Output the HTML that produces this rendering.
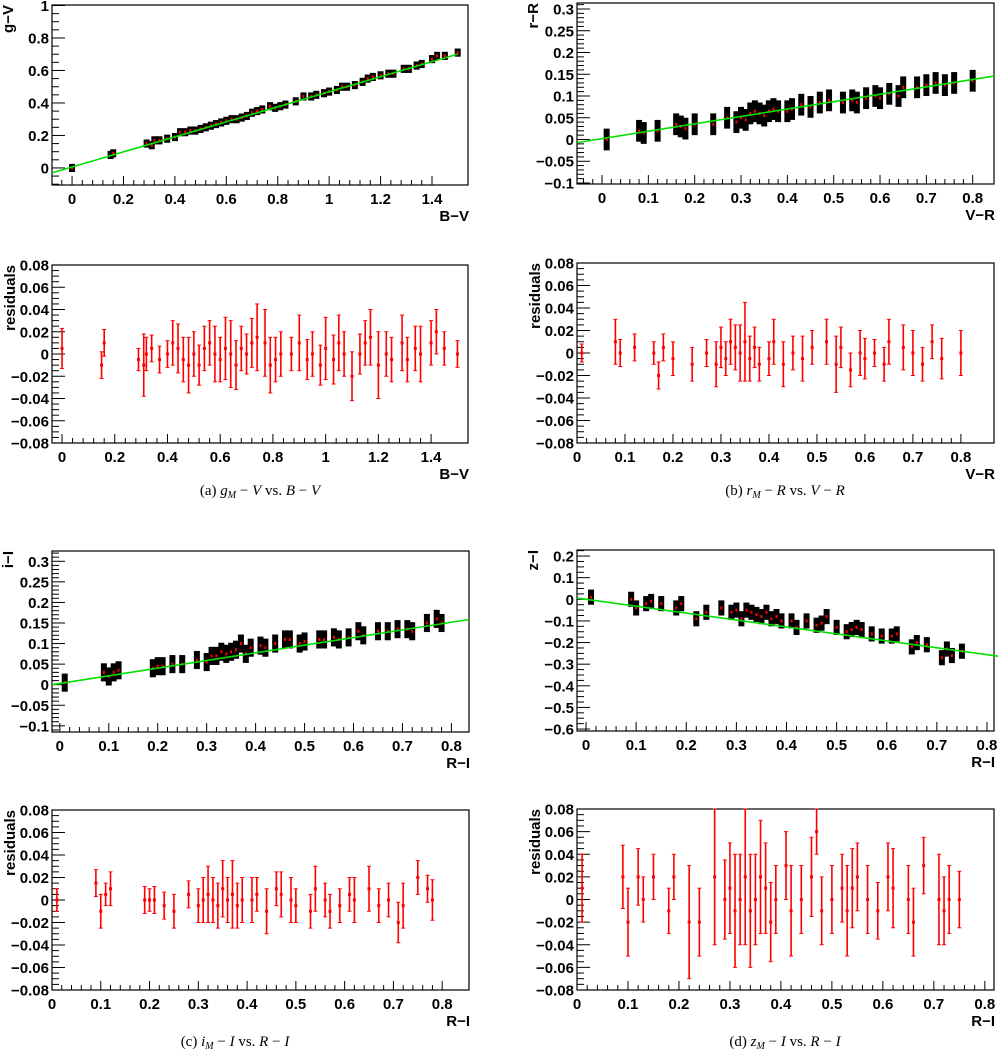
<!DOCTYPE html>
<html><head><meta charset="utf-8">
<style>
html,body{margin:0;padding:0;background:#fff;}
svg{display:block;}
.tl{font-family:"Liberation Sans",sans-serif;font-weight:bold;font-size:15px;fill:#000;}
.cap{font-family:"Liberation Serif",serif;font-size:15px;fill:#000;}
</style></head>
<body>
<svg id="fig" width="998" height="1049" viewBox="0 0 998 1049" xmlns="http://www.w3.org/2000/svg"></svg>
<script>
// ---- data ----
const aX=[0,0.15,0.16,0.29,0.31,0.32,0.34,0.37,0.40,0.42,0.44,0.46,0.48,0.50,0.52,0.54,0.56,0.58,0.60,0.62,0.64,0.66,0.68,0.70,0.72,0.74,0.77,0.79,0.81,0.83,0.87,0.90,0.93,0.95,0.98,1.0,1.03,1.05,1.07,1.10,1.13,1.15,1.17,1.20,1.23,1.25,1.29,1.31,1.34,1.36,1.40,1.42,1.45,1.50];
const aY=[0.0,0.08,0.09,0.15,0.14,0.17,0.17,0.18,0.19,0.22,0.22,0.23,0.23,0.24,0.25,0.26,0.27,0.28,0.29,0.30,0.30,0.31,0.32,0.34,0.35,0.36,0.38,0.37,0.38,0.39,0.41,0.44,0.44,0.45,0.46,0.47,0.48,0.50,0.50,0.51,0.53,0.55,0.56,0.57,0.58,0.58,0.61,0.61,0.63,0.64,0.67,0.69,0.69,0.71];
const aR=[0.005,-0.01,0.01,-0.005,-0.01,0.0,0.005,-0.005,0.0,0.01,0.005,-0.005,-0.01,0.0,-0.01,0.005,0.01,0.0,-0.005,0.005,0.0,-0.01,0.005,0.0,0.01,0.015,0.01,-0.01,-0.005,0.0,0.0,0.01,-0.005,0.0,-0.01,0.005,-0.005,0.01,0.0,-0.02,0.0,0.01,0.015,-0.01,0.0,-0.005,0.01,-0.005,0.005,0.0,0.01,0.02,0.005,0.0];
const aE=[0.018,0.012,0.012,0.01,0.028,0.015,0.012,0.012,0.012,0.02,0.022,0.02,0.025,0.02,0.018,0.02,0.02,0.025,0.02,0.028,0.03,0.022,0.02,0.018,0.022,0.03,0.03,0.025,0.02,0.02,0.015,0.025,0.018,0.02,0.018,0.028,0.022,0.025,0.02,0.022,0.018,0.02,0.025,0.03,0.02,0.02,0.025,0.02,0.02,0.025,0.02,0.02,0.015,0.012];
const bX=[0.01,0.08,0.09,0.12,0.16,0.17,0.18,0.20,0.24,0.27,0.29,0.30,0.31,0.32,0.33,0.34,0.35,0.36,0.37,0.38,0.40,0.41,0.43,0.45,0.47,0.49,0.52,0.54,0.55,0.57,0.59,0.60,0.62,0.64,0.65,0.68,0.70,0.72,0.74,0.76,0.80];
const bY=[0.0,0.02,0.015,0.02,0.035,0.03,0.025,0.035,0.035,0.05,0.04,0.05,0.045,0.06,0.065,0.06,0.055,0.065,0.07,0.065,0.065,0.07,0.08,0.075,0.085,0.09,0.085,0.09,0.085,0.095,0.10,0.095,0.105,0.10,0.12,0.12,0.125,0.13,0.125,0.13,0.135];
const bR=[0.0,0.01,0.0,0.005,0.0,-0.02,0.005,-0.005,-0.01,0.0,-0.01,0.005,-0.005,0.01,0.005,0.0,0.01,-0.005,0.005,-0.01,-0.005,0.01,-0.01,0.0,-0.005,0.005,0.01,-0.01,0.005,-0.015,0.0,-0.005,0.0,-0.01,0.01,0.005,0.0,-0.01,0.01,-0.005,0.0];
const bE=[0.008,0.02,0.012,0.012,0.01,0.012,0.012,0.015,0.015,0.012,0.02,0.018,0.015,0.02,0.02,0.025,0.035,0.02,0.018,0.015,0.015,0.02,0.02,0.015,0.02,0.015,0.02,0.025,0.018,0.015,0.02,0.018,0.012,0.015,0.02,0.02,0.02,0.015,0.015,0.018,0.02];
const cX=[0.01,0.09,0.1,0.11,0.12,0.19,0.2,0.21,0.23,0.25,0.28,0.3,0.31,0.32,0.33,0.34,0.35,0.36,0.37,0.38,0.39,0.41,0.42,0.44,0.46,0.47,0.49,0.5,0.53,0.54,0.56,0.57,0.59,0.61,0.62,0.65,0.67,0.69,0.71,0.72,0.75,0.77,0.78];
const cY=[0.005,0.03,0.02,0.03,0.035,0.04,0.045,0.045,0.05,0.05,0.06,0.055,0.07,0.07,0.08,0.075,0.08,0.085,0.1,0.075,0.09,0.095,0.09,0.1,0.11,0.11,0.1,0.105,0.11,0.11,0.115,0.11,0.115,0.13,0.12,0.13,0.13,0.135,0.135,0.13,0.15,0.16,0.15];
const cR=[0.0,0.015,-0.01,0.005,0.01,0.0,0.0,0.0,-0.005,-0.01,0.005,-0.005,0.0,0.005,0.0,-0.005,0.01,0.0,0.005,-0.005,0.0,0.0,0.005,-0.01,0.01,0.005,0.0,-0.005,-0.01,0.01,0.0,-0.01,-0.005,0.005,0.0,0.01,-0.005,0.0,-0.02,-0.005,0.02,0.01,0.0];
const cE=[0.01,0.012,0.015,0.01,0.015,0.012,0.01,0.012,0.012,0.015,0.012,0.015,0.02,0.025,0.02,0.02,0.025,0.02,0.03,0.02,0.02,0.02,0.015,0.02,0.015,0.02,0.02,0.015,0.015,0.02,0.015,0.015,0.015,0.015,0.02,0.02,0.015,0.015,0.018,0.02,0.015,0.012,0.018];
const dX=[0.01,0.09,0.1,0.12,0.13,0.15,0.18,0.19,0.22,0.24,0.27,0.29,0.3,0.31,0.32,0.33,0.34,0.35,0.36,0.37,0.38,0.39,0.41,0.42,0.44,0.46,0.47,0.48,0.5,0.52,0.53,0.54,0.55,0.57,0.59,0.61,0.62,0.65,0.66,0.68,0.71,0.72,0.73,0.75];
const dY=[0.01,0.0,-0.04,-0.02,-0.01,-0.02,-0.04,-0.02,-0.09,-0.06,-0.04,-0.06,-0.05,-0.09,-0.05,-0.06,-0.07,-0.08,-0.06,-0.09,-0.08,-0.1,-0.1,-0.13,-0.1,-0.12,-0.11,-0.08,-0.13,-0.15,-0.14,-0.13,-0.14,-0.16,-0.17,-0.17,-0.16,-0.22,-0.2,-0.21,-0.27,-0.23,-0.26,-0.24];
const dR=[0.01,0.02,-0.02,0.02,0.0,0.02,-0.01,0.02,-0.02,-0.02,0.02,0.0,0.01,-0.01,0.0,0.02,-0.01,0.0,0.02,0.01,-0.02,0.0,0.03,-0.01,0.0,0.02,0.06,-0.01,0.0,0.01,-0.01,0.01,0.02,0.0,-0.01,0.02,0.01,0.0,-0.02,0.03,0.0,-0.01,0.0,0.0];
const dE=[0.03,0.028,0.03,0.025,0.02,0.02,0.02,0.02,0.05,0.03,0.06,0.035,0.04,0.05,0.04,0.06,0.05,0.04,0.05,0.04,0.035,0.03,0.03,0.04,0.03,0.035,0.02,0.03,0.03,0.03,0.04,0.035,0.03,0.03,0.025,0.03,0.035,0.03,0.03,0.025,0.04,0.03,0.03,0.025];
const fitSlope=[0.463,0.17,0.186,-0.32];
const fitIntercept=[0.006,0.002,0.003,0.0];
const captions=["(a) ","(b) ","(c) ","(d) "];

// ---- drawing ----
const NS="http://www.w3.org/2000/svg";
const svg=document.getElementById('fig');
function mk(tag,attrs,parent){const e=document.createElementNS(NS,tag);for(const k in attrs)e.setAttribute(k,attrs[k]);(parent||svg).appendChild(e);return e;}
function fmt(v){let s=(Math.round(v*1000)/1000).toString();if(s.startsWith('-'))s='\u2212'+s.slice(1);return s;}

function panel(name,f,xd,yd,xt,yt,xTitle,yTitle){
  const g=mk('g',{});
  
  
  const [L,T,R,B]=f;
  const sx=v=>L+(v-xd[0])/(xd[1]-xd[0])*(R-L);
  const sy=v=>B-(v-yd[0])/(yd[1]-yd[0])*(B-T);
  const fr=mk('rect',{x:L,y:T,width:R-L,height:B-T,fill:'none',stroke:'#000','stroke-width':1.2},g);
  
  
  const xa=mk('g',{},g);
  
  
  for(let v=xt[0];v<=xt[1]+1e-9;v+=xt[2]/5){
    const vv=Math.round(v*1e6)/1e6; if(vv<xd[0]||vv>xd[1])continue;
    const major=Math.abs(Math.round(vv/xt[2])*xt[2]-vv)<1e-6;
    mk('line',{x1:sx(vv),x2:sx(vv),y1:B,y2:B-(major?9:5),stroke:'#000','stroke-width':1},xa);
  }
  for(let v=xt[0]-xt[2]/5;v>=xd[0];v-=xt[2]/5) mk('line',{x1:sx(v),x2:sx(v),y1:B,y2:B-5,stroke:'#000'},xa);
  for(let v=xt[0];v<=xt[1]+1e-9;v+=xt[2]){
    const vv=Math.round(v*1e6)/1e6;
    const t=mk('text',{x:sx(vv),y:B+19,'text-anchor':'middle',class:'tl'},xa);t.textContent=fmt(vv);
  }
  const xtl=mk('text',{x:R+1,y:B+36,'text-anchor':'end',class:'tl'},g);xtl.textContent=xTitle;
  
  
  const ya=mk('g',{},g);
  
  
  const ym=yt[2]/(yt[3]||5);
  for(let v=yt[0]-ym*10;v<=yd[1]+1e-9;v+=ym){
    const vv=Math.round(v*1e6)/1e6; if(vv<yd[0]-1e-9)continue;
    const major=Math.abs(Math.round(vv/yt[2])*yt[2]-vv)<1e-6;
    mk('line',{x1:L,x2:L+(major?13:7),y1:sy(vv),y2:sy(vv),stroke:'#000','stroke-width':1},ya);
  }
  for(let v=yt[0];v<=yt[1]+1e-9;v+=yt[2]){
    const vv=Math.round(v*1e6)/1e6;
    const t=mk('text',{x:L-3,y:sy(vv)+5.5,'text-anchor':'end',class:'tl'},ya);t.textContent=fmt(vv);
  }
  const bx=L-(yTitle==='residuals'?37:39);
  const ytl=mk('text',{x:0,y:0,'text-anchor':'end',class:'tl',transform:`translate(${bx},${T}) rotate(-90)`},g);ytl.textContent=yTitle;
  
  
  return {g,sx,sy,f};
}

function topPanel(idx,f,xd,yd,xt,yt,xT,yT,X,Y,err,fitx){
  const p=panel('fit-panel-'+'abcd'[idx],f,xd,yd,xt,yt,xT,yT);
  const pts=mk('g',{},p.g);
  
  
  for(let i=0;i<X.length;i++){
    const x=p.sx(X[i]);
    const b=mk('rect',{x:x-3,y:p.sy(Y[i]+err),width:6,height:p.sy(Y[i]-err)-p.sy(Y[i]+err),fill:'#000'},pts);
    
    
    const d=mk('rect',{x:x-1,y:p.sy(Y[i])-1.5,width:2,height:3,fill:'#f00'},pts);
    
    
  }
  const x0=fitx[0],x1=fitx[1];
  const ln=mk('line',{x1:p.sx(x0),y1:p.sy(fitSlope[idx]*x0+fitIntercept[idx]),x2:p.sx(x1),y2:p.sy(fitSlope[idx]*x1+fitIntercept[idx]),stroke:'#00e000','stroke-width':1.6},p.g);
  
  
}
function resPanel(idx,f,xd,xt,X,Rr,E){
  const p=panel('residual-panel-'+'abcd'[idx],f,xd,[-0.08,0.08],xt,[-0.08,0.08,0.02,4],xt[3],'residuals');
  const pts=mk('g',{},p.g);
  
  
  const [L,T,R,B]=f;
  for(let i=0;i<X.length;i++){
    const x=p.sx(X[i]);
    const y1=Math.max(T,p.sy(Rr[i]+E[i])),y2=Math.min(B,p.sy(Rr[i]-E[i]));
    const l=mk('line',{x1:x,x2:x,y1:y1,y2:y2,stroke:'#f00','stroke-width':1.6},pts);
    
    
    mk('line',{x1:x-2,x2:x+2,y1:y1,y2:y1,stroke:'#f00'},pts);
    mk('line',{x1:x-2,x2:x+2,y1:y2,y2:y2,stroke:'#f00'},pts);
    const d=mk('rect',{x:x-1.5,y:p.sy(Rr[i])-1.5,width:3,height:3,fill:'#f00'},pts);
    
    
  }
}

topPanel(0,[52,5,468,185],[-0.078,1.54],[-0.105,1.003],[0,1.4,0.2],[0,1,0.2,4],'B\u2212V','g\u2212V',aX,aY,0.025,[-0.078,1.5]);
resPanel(0,[52,265,468,443],[-0.038,1.54],[0,1.4,0.2,'B\u2212V'],aX,aR,aE);
topPanel(1,[577,3,994,184],[-0.054,0.846],[-0.1023,0.3138],[0,0.8,0.1],[-0.1,0.3,0.05,5],'V\u2212R','r\u2212R',bX,bY,0.025,[-0.054,0.846]);
resPanel(1,[577,263,994,443],[0,0.869],[0,0.8,0.1,'V\u2212R'],bX,bR,bE);
topPanel(2,[52,551,469,732],[-0.016,0.836],[-0.115,0.325],[0,0.8,0.1],[-0.1,0.3,0.05,5],'R\u2212I','i\u2212I',cX,cY,0.022,[-0.016,0.836]);
resPanel(2,[52,810,469,990],[0,0.855],[0,0.8,0.1,'R\u2212I'],cX,cR,cE);
topPanel(3,[577,550,994,731],[-0.018,0.814],[-0.609,0.228],[0,0.8,0.1],[-0.6,0.2,0.1,4],'R\u2212I','z\u2212I',dX,dY,0.035,[-0.018,0.84]);
resPanel(3,[577,809,994,990],[0,0.818],[0,0.8,0.1,'R\u2212I'],dX,dR,dE);

const capData=[[260,495,'g','V','B','V'],[785,495,'r','R','V','R'],[235,1046,'i','I','R','I'],[785,1046,'z','I','R','I']];
capData.forEach((c,i)=>{
  const t=mk('text',{x:c[0],y:c[1],'text-anchor':'middle',class:'cap'});
  
  
  t.innerHTML=captions[i]+'<tspan font-style="italic">'+c[2]+'</tspan><tspan font-style="italic" font-size="10" dy="3">M</tspan><tspan dy="-3"> \u2212 </tspan><tspan font-style="italic">'+c[3]+'</tspan> vs. <tspan font-style="italic">'+c[4]+'</tspan> \u2212 <tspan font-style="italic">'+c[5]+'</tspan>';
});
</script>
</body></html>
